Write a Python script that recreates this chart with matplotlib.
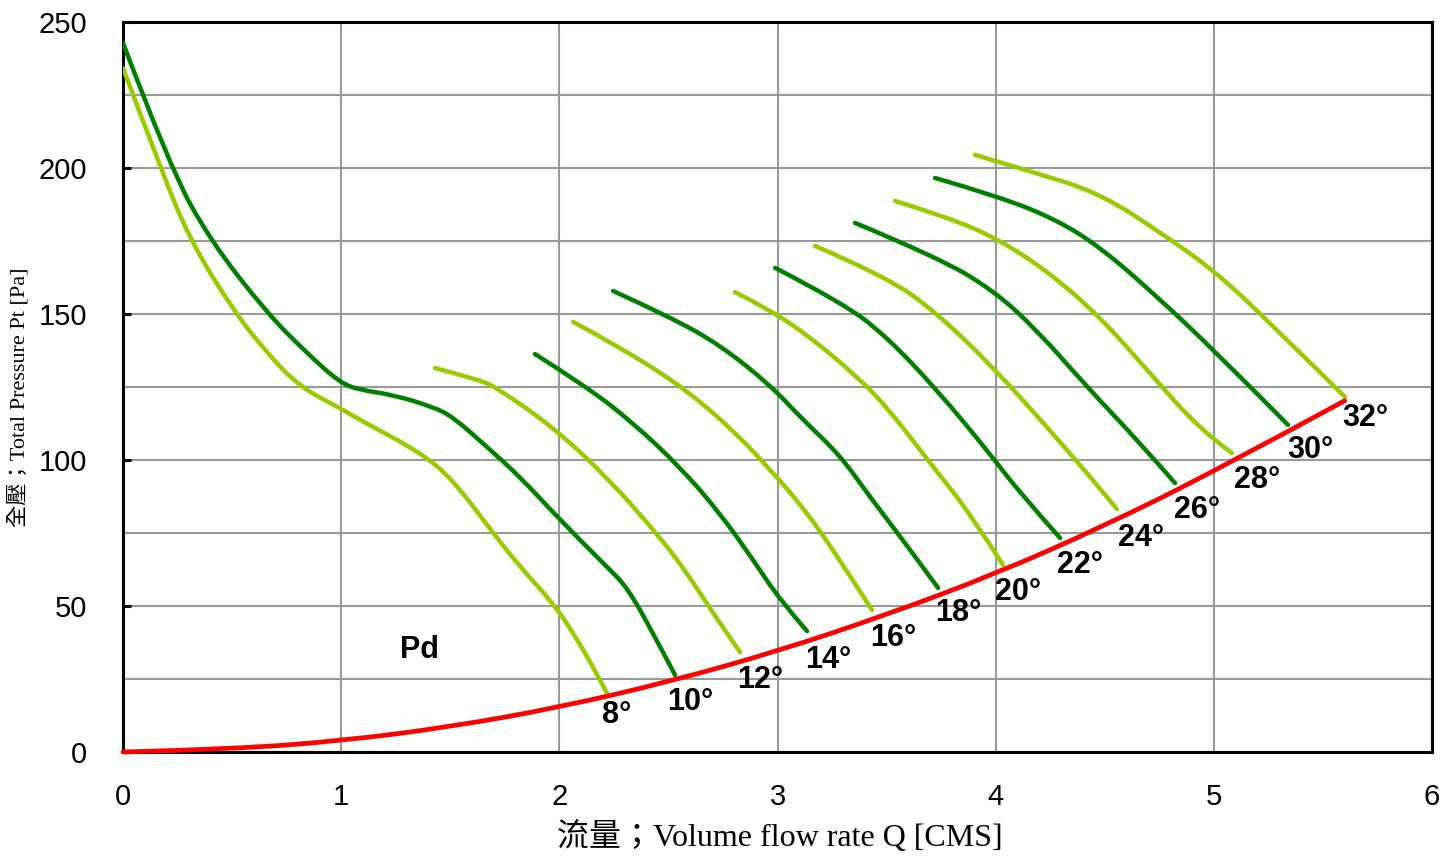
import numpy as np
import matplotlib
matplotlib.use("Agg")
import matplotlib.pyplot as plt
from matplotlib.path import Path
from matplotlib.patches import PathPatch

# Fan curves: total pressure vs flow rate, one per blade angle

angles = [8, 10, 12, 14, 16, 18, 20, 22, 24, 26, 28, 30, 32]

q_08 = [0, 0.170, 0.307, 0.504, 0.660, 0.811, 0.995, 1.086, 1.361, 1.513, 1.696, 1.820, 1.971, 2.063, 2.155, 2.218]
p_08 = [234.2, 200.3, 175.3, 151.4, 136.6, 125.0, 117.8, 113.7, 102.7, 93.2, 75.0, 63.4, 51.0, 40.8, 29.1, 20.2]

q_10 = [0, 0.215, 0.399, 0.660, 0.843, 0.995, 1.086, 1.238, 1.421, 1.513, 1.668, 1.820, 2.003, 2.218, 2.310, 2.429, 2.530]
p_10 = [242.8, 200.3, 175.3, 150.3, 136.6, 126.4, 124.0, 122.3, 118.2, 114.7, 104.5, 94.2, 79.5, 63.4, 56.5, 40.8, 26.4]

q_12 = [1.430, 1.636, 1.714, 1.971, 2.218, 2.461, 2.585, 2.704, 2.828]
p_12 = [131.5, 127.4, 124.7, 111.3, 94.2, 73.6, 61.3, 47.6, 34.2]

q_14 = [1.888, 2.127, 2.338, 2.553, 2.736, 2.888, 3.011, 3.135]
p_14 = [136.3, 125.0, 112.7, 97.6, 81.8, 65.8, 52.1, 41.4]

q_16 = [2.063, 2.278, 2.585, 2.828, 2.966, 3.117, 3.286, 3.433]
p_16 = [147.3, 138.7, 124.0, 107.9, 96.6, 83.9, 65.8, 48.6]

q_18 = [2.246, 2.507, 2.736, 2.966, 3.117, 3.286, 3.424, 3.575, 3.736]
p_18 = [157.9, 149.0, 139.4, 125.7, 113.7, 101.7, 87.3, 72.6, 56.2]

q_20 = [2.805, 2.966, 3.149, 3.346, 3.502, 3.713, 3.882, 4.034]
p_20 = [157.5, 151.4, 142.1, 129.8, 118.2, 97.6, 81.8, 64.0]

q_22 = [2.989, 3.300, 3.502, 3.731, 3.960, 4.111, 4.295]
p_22 = [165.8, 153.8, 142.1, 124.0, 103.4, 88.7, 73.3]

q_24 = [3.172, 3.502, 3.731, 3.988, 4.235, 4.419, 4.556]
p_24 = [173.3, 162.7, 150.3, 131.8, 111.3, 95.5, 83.2]

q_26 = [3.355, 3.731, 3.988, 4.189, 4.419, 4.662, 4.822]
p_26 = [181.2, 169.5, 158.2, 144.5, 125.0, 105.8, 92.1]

q_28 = [3.539, 3.791, 4.020, 4.249, 4.478, 4.707, 4.937, 5.083]
p_28 = [188.7, 182.9, 175.3, 164.0, 149.0, 129.8, 110.3, 102.4]

q_30 = [3.722, 4.020, 4.281, 4.478, 4.707, 5.015, 5.340]
p_30 = [196.6, 190.1, 182.2, 172.9, 158.2, 136.6, 112.0]

q_32 = [3.905, 4.171, 4.478, 4.785, 5.015, 5.244, 5.601]
p_32 = [204.5, 198.6, 191.4, 176.4, 164.0, 147.9, 121.6]

# Dynamic pressure Pd
q_pd = [0, 0.5, 1.0, 1.5, 2.0, 2.5, 3.0, 3.5, 4.0, 4.5, 5.0, 5.6]
p_pd = [0, 1.0, 3.8, 8.6, 15.3, 24.0, 34.5, 47.0, 61.0, 77.5, 96.0, 120.3]

# Angle label positions (near the Pd line)
label_q = [2.264, 2.599, 2.920, 3.231, 3.529, 3.827, 4.102, 4.386, 4.666, 4.923, 5.198, 5.441, 5.693]
label_p = [12.7, 17.1, 24.7, 31.5, 39.0, 47.6, 54.8, 64.0, 73.3, 82.9, 93.2, 103.4, 114.4]

curves = [(q_08, p_08), (q_10, p_10), (q_12, p_12), (q_14, p_14), (q_16, p_16),
          (q_18, p_18), (q_20, p_20), (q_22, p_22), (q_24, p_24), (q_26, p_26),
          (q_28, p_28), (q_30, p_30), (q_32, p_32)]

light = "#99CC00"
dark = "#008000"


def smooth_path(q, p):
    # quadratic bezier through midpoints, read points act as control points
    pts = np.column_stack([q, p])
    verts = [pts[0]]
    codes = [Path.MOVETO]
    for i in range(1, len(pts) - 1):
        mid = (pts[i] + pts[i + 1]) / 2 if i < len(pts) - 2 else pts[-1]
        verts += [pts[i], mid]
        codes += [Path.CURVE3, Path.CURVE3]
    if len(pts) == 2:
        verts.append(pts[1])
        codes.append(Path.LINETO)
    return Path(verts, codes)


fig = plt.figure(figsize=(14.44, 8.56), dpi=100)
ax = fig.add_axes([0.0852, 0.1215, 0.9065, 0.8528])

for i, (q, p) in enumerate(curves):
    c = light if i % 2 == 0 else dark
    ax.add_patch(PathPatch(smooth_path(q, p), fill=False, edgecolor=c, lw=3.2,
                           capstyle="round", joinstyle="round", zorder=3))

ax.add_patch(PathPatch(smooth_path(q_pd, p_pd), fill=False, edgecolor="#FF0000", lw=3.4,
                       capstyle="round", zorder=4, clip_on=False))

for a, lq, lp in zip(angles, label_q, label_p):
    ax.text(lq, lp, f"{a}°", fontsize=22, fontweight="bold", family="Liberation Sans",
            ha="center", va="center", zorder=5)
ax.text(1.361, 34.9, "Pd", fontsize=22, fontweight="bold", family="Liberation Sans",
        ha="center", va="center")

ax.set_xlim(0, 6)
ax.set_ylim(0, 250)
ax.set_xticks(range(7))
ax.set_yticks(range(0, 251, 50))
ax.set_yticks(range(25, 250, 50), minor=True)
ax.grid(True, which="both", color="#999999", lw=1.5, zorder=1)
ax.set_axisbelow(True)

for s in ax.spines.values():
    s.set_linewidth(2.2)
    s.set_color("black")

ax.tick_params(axis="y", which="major", direction="in", length=6, width=2.2, pad=26,
               labelsize=21)
ax.tick_params(axis="y", which="minor", length=0)
ax.tick_params(axis="x", which="major", direction="in", length=0, pad=22, labelsize=21)
for lbl in ax.get_xticklabels() + ax.get_yticklabels():
    lbl.set_family("Liberation Sans")

fig.text(0.54, 0.022, "流量；Volume flow rate Q [CMS]", fontsize=23, ha="center", va="center",
         family=["Liberation Serif", "Noto Sans CJK TC"])
fig.text(0.013, 0.536, "全壓；Total Pressure Pt [Pa]", fontsize=16, ha="center", va="center",
         rotation=90, family=["Liberation Serif", "Noto Sans CJK TC"])

fig.savefig("out.png", dpi=100)
